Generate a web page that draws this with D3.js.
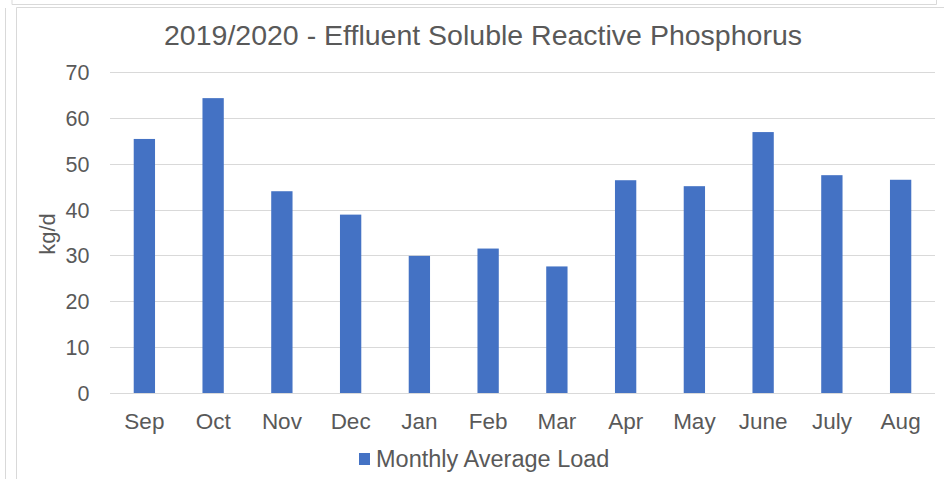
<!DOCTYPE html>
<html><head><meta charset="utf-8">
<script src="https://cdn.jsdelivr.net/npm/d3@7"></script>
<style>body{margin:0;background:#fff;}svg{display:block;font-family:"Liberation Sans",Arial,sans-serif;}</style>
</head><body>
<svg id="chart" width="944" height="479"></svg>
<script>
const months = ["Sep","Oct","Nov","Dec","Jan","Feb","Mar","Apr","May","June","July","Aug"];
const load = [55.4, 64.3, 44.0, 38.9, 29.9, 31.5, 27.6, 46.4, 45.1, 56.9, 47.5, 46.5];
const yTicks = [0,10,20,30,40,50,60,70];
const seriesName = "Monthly Average Load";
const titleText = "2019/2020 - Effluent Soluble Reactive Phosphorus";
const yTitle = "kg/d";

const svg = d3.select("#chart");
const textColor = "#595959";
const barColor = "#4472C4";

// outer frame lines
svg.append("path").attr("d","M12,0V4.5H936.5V0").attr("fill","none").attr("stroke","#d9d9d9").attr("stroke-width",1);
svg.append("line").attr("x1",5.5).attr("x2",5.5).attr("y1",8).attr("y2",479).attr("stroke","#d9d9d9");
svg.append("path").attr("d","M16.5,479V7.5H944").attr("fill","none").attr("stroke","#d9d9d9").attr("stroke-width",1);

const x = d3.scaleBand().domain(months).range([110, 935]).paddingInner(0.69).paddingOuter(0.345);
const y = d3.scaleLinear().domain([0,70]).range([393, 72]);

// gridlines
svg.append("g").selectAll("line").data(yTicks).join("line")
  .attr("x1",110).attr("x2",935)
  .attr("y1",d=>Math.round(y(d))+0.5).attr("y2",d=>Math.round(y(d))+0.5)
  .attr("stroke","#d9d9d9").attr("stroke-width",1);

// bars
svg.append("g").selectAll("rect").data(months).join("rect")
  .attr("x",d=>x(d)).attr("width",x.bandwidth())
  .attr("y",(d,i)=>y(load[i])).attr("height",(d,i)=>y(0)-y(load[i]))
  .attr("fill",barColor);

// y axis labels
const yAxis = d3.axisLeft(y).tickValues(yTicks).tickSize(0).tickPadding(0);
const gy = svg.append("g").attr("transform","translate(89.5,0)").call(yAxis);
gy.select(".domain").remove();
gy.selectAll("text").attr("font-size",21.5).attr("fill",textColor).attr("dy","0.35em").attr("font-family","Liberation Sans, Arial, sans-serif");

// x axis labels
const xAxis = d3.axisBottom(x).tickSize(0).tickPadding(0);
const gx = svg.append("g").attr("transform","translate(0,428.5)").call(xAxis);
gx.select(".domain").remove();
gx.selectAll("text").attr("font-size",22.5).attr("fill",textColor).attr("dy","0").attr("font-family","Liberation Sans, Arial, sans-serif");

// title
svg.append("text").attr("x",483).attr("y",45).attr("text-anchor","middle")
  .attr("font-size",28.5).attr("fill",textColor).text(titleText);

// y title
svg.append("text").attr("transform","translate(55,234) rotate(-90)").attr("text-anchor","middle")
  .attr("font-size",22).attr("fill",textColor).text(yTitle);

// legend
svg.append("rect").attr("x",359).attr("y",453).attr("width",11).attr("height",12).attr("fill",barColor);
svg.append("text").attr("x",376).attr("y",467).attr("font-size",23.5).attr("fill",textColor).text(seriesName);
</script>
</body></html>
